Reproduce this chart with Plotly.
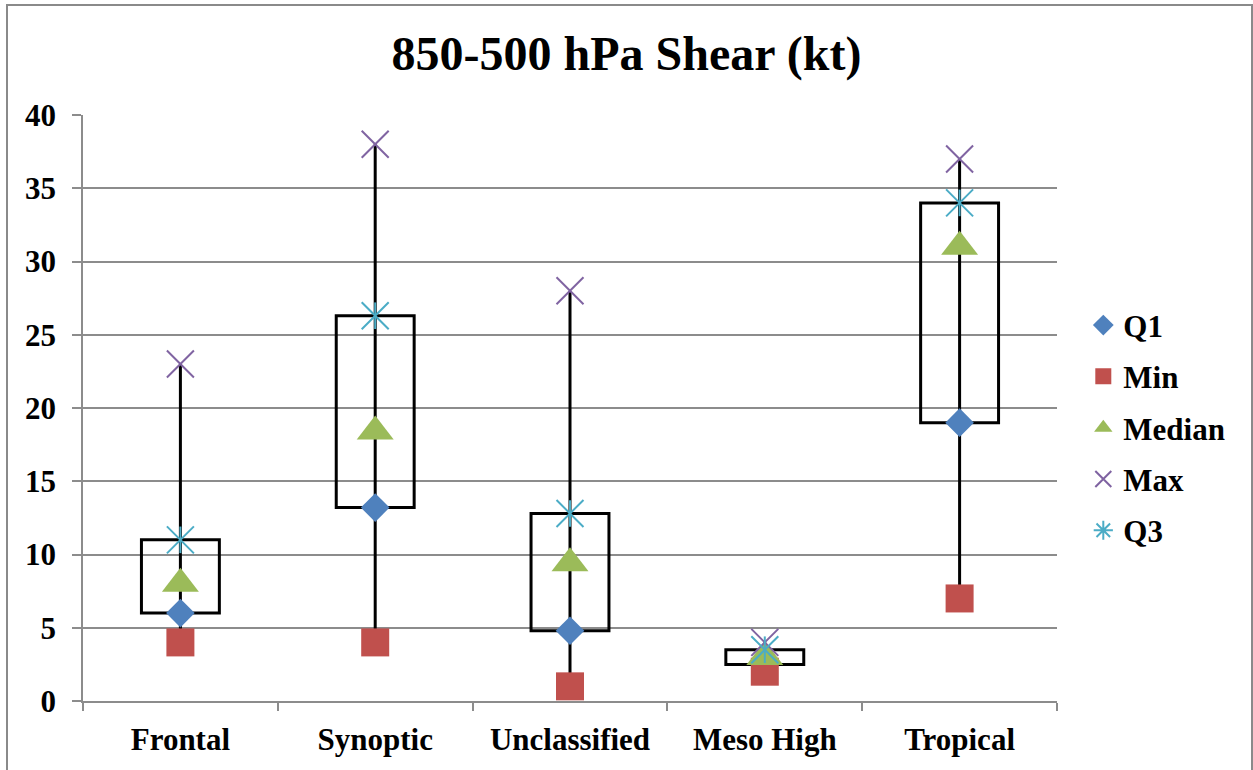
import plotly.graph_objects as go

categories = ["Frontal", "Synoptic", "Unclassified", "Meso High", "Tropical"]
q1_vals = [6.0, 13.2, 4.8, 2.5, 19.0]
min_vals = [4.0, 4.0, 1.0, 2.0, 7.0]
median_vals = [8.0, 18.4, 9.4, 3.0, 31.0]
max_vals = [23.0, 38.0, 28.0, 4.0, 37.0]
q3_vals = [11.0, 26.3, 12.8, 3.5, 34.0]
y_ticks = [0, 5, 10, 15, 20, 25, 30, 35, 40]

FONT = "Liberation Serif, Times New Roman, serif"
GRID = "#8c8c8c"

fig = go.Figure()

# Boxes (Q1 to Q3)
fig.add_trace(go.Bar(
    x=categories,
    y=[b - a for a, b in zip(q1_vals, q3_vals)],
    base=q1_vals,
    width=0.4,
    marker=dict(color="rgba(0,0,0,0)", line=dict(color="black", width=3)),
    showlegend=False, hoverinfo="skip",
))

# Whiskers (Min to Max)
wx, wy = [], []
for c, lo, hi in zip(categories, min_vals, max_vals):
    wx += [c, c, None]
    wy += [lo, hi, None]
fig.add_trace(go.Scatter(
    x=wx, y=wy, mode="lines",
    line=dict(color="black", width=3),
    showlegend=False, hoverinfo="skip",
))

fig.add_trace(go.Scatter(
    x=categories, y=q1_vals, mode="markers", name="Q1", legendgroup="q1",
    marker=dict(symbol="diamond", size=22, color="#4F81BD"),
))
fig.add_trace(go.Scatter(
    x=categories, y=min_vals, mode="markers", name="Min", legendgroup="min",
    marker=dict(symbol="square", size=28, color="#C0504D"),
))
fig.add_trace(go.Scatter(
    x=categories, y=median_vals, mode="markers", name="Median", legendgroup="med",
    marker=dict(symbol="triangle-up", size=32, color="#9BBB59"),
))
fig.add_trace(go.Scatter(
    x=categories, y=max_vals, mode="markers", name="Max", legendgroup="max",
    marker=dict(symbol="x-thin-open", size=27, color="#8064A2",
                line=dict(color="#8064A2", width=2)),
))
# Q3 star: X plus vertical stroke
fig.add_trace(go.Scatter(
    x=categories, y=q3_vals, mode="markers", name="Q3", legendgroup="q3",
    showlegend=False,
    marker=dict(symbol="x-thin-open", size=27, color="#4BACC6",
                line=dict(color="#4BACC6", width=2)),
))
fig.add_trace(go.Scatter(
    x=categories, y=q3_vals, mode="markers", name="Q3", legendgroup="q3",
    showlegend=False,
    marker=dict(symbol="line-ns-open", size=19, color="#4BACC6",
                line=dict(color="#4BACC6", width=2)),
))
fig.add_trace(go.Scatter(
    x=[None], y=[None], mode="markers", name="Q3", legendgroup="q3",
    marker=dict(symbol="asterisk-open", size=16, color="#4BACC6",
                line=dict(color="#4BACC6", width=2)),
))

fig.update_layout(
    width=1253, height=770,
    margin=dict(l=83, r=196, t=115, b=69),
    paper_bgcolor="white", plot_bgcolor="white",
    font=dict(family=FONT, color="black", size=31, weight="bold"),
    title=dict(text="850-500 hPa Shear (kt)", x=0.5, xref="container",
               y=0.931, yref="container", yanchor="middle", xanchor="center",
               font=dict(family=FONT, size=48, color="black", weight="bold")),
    showlegend=True,
    legend=dict(x=1.027, y=0.466, xanchor="left", yanchor="middle",
                font=dict(family=FONT, size=31, color="black", weight="bold"),
                tracegroupgap=8, bgcolor="rgba(0,0,0,0)",
                itemclick=False, itemdoubleclick=False),
    bargap=0.6,
    shapes=[dict(type="rect", xref="paper", yref="paper",
                 x0=(7 - 83) / 974, x1=(1252 - 83) / 974,
                 y0=(701 - 780) / 586, y1=(701 - 5) / 586,
                 line=dict(color="#8a8a8a", width=2), fillcolor="rgba(0,0,0,0)",
                 layer="below")],
)

fig.update_xaxes(
    type="category", categoryorder="array", categoryarray=categories,
    showgrid=False, showline=True, linecolor=GRID, linewidth=1.5,
    ticks="outside", tickson="boundaries", ticklen=8, tickcolor=GRID, tickwidth=1.5,
    tickfont=dict(family=FONT, size=31, color="black", weight="bold"),
    ticklabelstandoff=10,
    range=[-0.5, 4.5], zeroline=False,
)
fig.update_yaxes(
    range=[0, 40], tickvals=y_ticks, ticktext=[str(v) for v in y_ticks],
    showgrid=True, gridcolor=GRID, gridwidth=1.5,
    showline=True, linecolor=GRID, linewidth=1.5,
    ticks="outside", ticklen=9, tickcolor=GRID, tickwidth=1.5,
    tickfont=dict(family=FONT, size=31, color="black", weight="bold"),
    ticklabelstandoff=10,
    zeroline=False,
)

fig.write_html("out.html")
